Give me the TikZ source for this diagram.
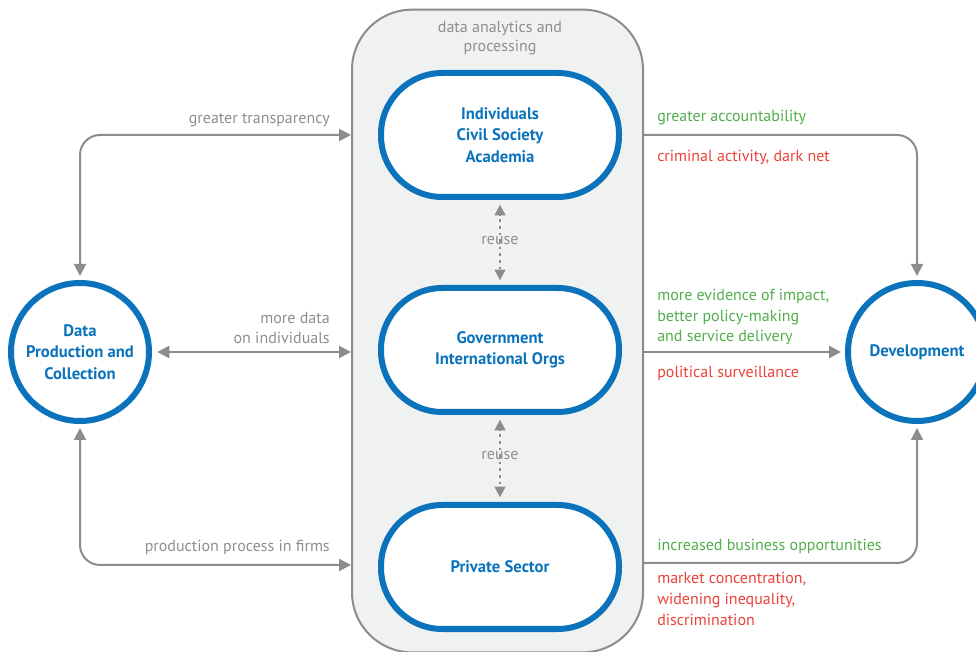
\documentclass[tikz,border=0pt]{standalone}
\usepackage{fontspec}
\setmainfont{PT Sans}
\usetikzlibrary{arrows.meta}
\definecolor{blu}{HTML}{0B73BB}
\definecolor{lin}{HTML}{8C8C8C}
\definecolor{txtg}{HTML}{8E8E8E}
\definecolor{grn}{HTML}{52AD4B}
\definecolor{rd}{HTML}{EC4138}
\definecolor{panel}{HTML}{F0F1F1}
\tikzset{
  panelbox/.style={draw=lin, line width=1.5pt, fill=panel, rounded corners=45pt,
    minimum width=218.25pt, minimum height=482pt, inner sep=0pt},
  pill/.style={draw=blu, line width=4.5pt, fill=white, rounded corners=46pt,
    minimum width=178.5pt, minimum height=93pt, align=center, text=blu,
    font=\bfseries\fontsize{12.5}{16}\selectfont},
  hub/.style={circle, draw=blu, line width=4.5pt, fill=white, minimum size=103.5pt,
    inner sep=0pt, align=center, text=blu, font=\bfseries\fontsize{12.5}{16}\selectfont},
  tip/.tip={Triangle[length=9pt,width=9pt]},
  link/.style={draw=lin, line width=1.5pt, rounded corners=15pt},
  reusearr/.style={draw=lin, line width=1.5pt, dash pattern=on 2pt off 3pt, -{Triangle[length=8pt,width=8pt]}},
  lbl/.style={text=txtg, font=\fontsize{12}{15.5}\selectfont, inner sep=0pt},
  good/.style={text=grn, font=\fontsize{12}{15.5}\selectfont, inner sep=0pt, anchor=west, align=left},
  bad/.style={text=rd, font=\fontsize{12}{15.5}\selectfont, inner sep=0pt, anchor=west, align=left},
}
\begin{document}
\begin{tikzpicture}[x=0.75pt, y=-0.75pt]
\useasboundingbox (0,0) rectangle (976,652);

% central processing panel
\node[panelbox] (box) at (497.5,331) {};
\node[lbl, align=center, font=\fontsize{12}{14.5}\selectfont] (title) at (500,38) {data analytics and\\processing};

% actors
\node[pill] (ind) at (500,135) {Individuals\\Civil Society\\Academia};
\node[pill] (gov) at (500,350) {Government\\International Orgs};
\node[pill] (priv) at (500,567) {Private Sector};

% outer hubs
\node[hub] (dpc) at (80,352) {Data\\Production and\\Collection};
\node[hub] (dev) at (917,352) {Development};

% reuse between actors
\node[lbl] (r1) at (500,241) {reuse};
\node[lbl] (r2) at (500,456) {reuse};
\draw[reusearr] ([yshift=-4pt]r1.north) -- ([yshift=-3.5pt]ind.south);
\draw[reusearr] ([yshift=4pt]r1.south) -- ([yshift=3.5pt]gov.north);
\draw[reusearr] ([yshift=-4pt]r2.north) -- ([yshift=-3.5pt]gov.south);
\draw[reusearr] ([yshift=4pt]r2.south) -- ([yshift=3.5pt]priv.north);

% data flows on the left
\draw[link, tip-tip, shorten >=3pt] (box.west |- ind.center) -| (dpc.north);
\draw[link, tip-tip, shorten <=4pt] (dpc.east) -- (box.west |- dpc.center);
\draw[link, tip-tip, shorten <=3pt] (dpc.south) |- ([yshift=1.5pt]box.west |- priv.center);

\node[lbl, anchor=east] (t1) at (330,120) {greater transparency};
\node[lbl, anchor=east, align=right] (t2) at (330,328) {more data\\on individuals};
\node[lbl, anchor=east] (t3) at (330,547) {production process in firms};

% outcomes on the right
\draw[link, -tip, shorten >=3pt] (box.east |- ind.center) -| (dev.north);
\draw[link, -tip, shorten >=3pt] (box.east |- dev.center) -- (dev.west);
\draw[link, -tip, shorten >=3pt] ([yshift=3pt]box.east |- priv.center) -| (dev.south);

\node[good] (g1) at (657,118) {greater accountability};
\node[bad] (b1) at (657,157) {criminal activity, dark net};
\node[good] (g2) at (657,317) {more evidence of impact,\\better policy-making\\and service delivery};
\node[bad] (b2) at (657,373) {political surveillance};
\node[good] (g3) at (657,546) {increased business opportunities};
\node[bad] (b3) at (657,599) {market concentration,\\widening inequality,\\discrimination};
\end{tikzpicture}
\end{document}
